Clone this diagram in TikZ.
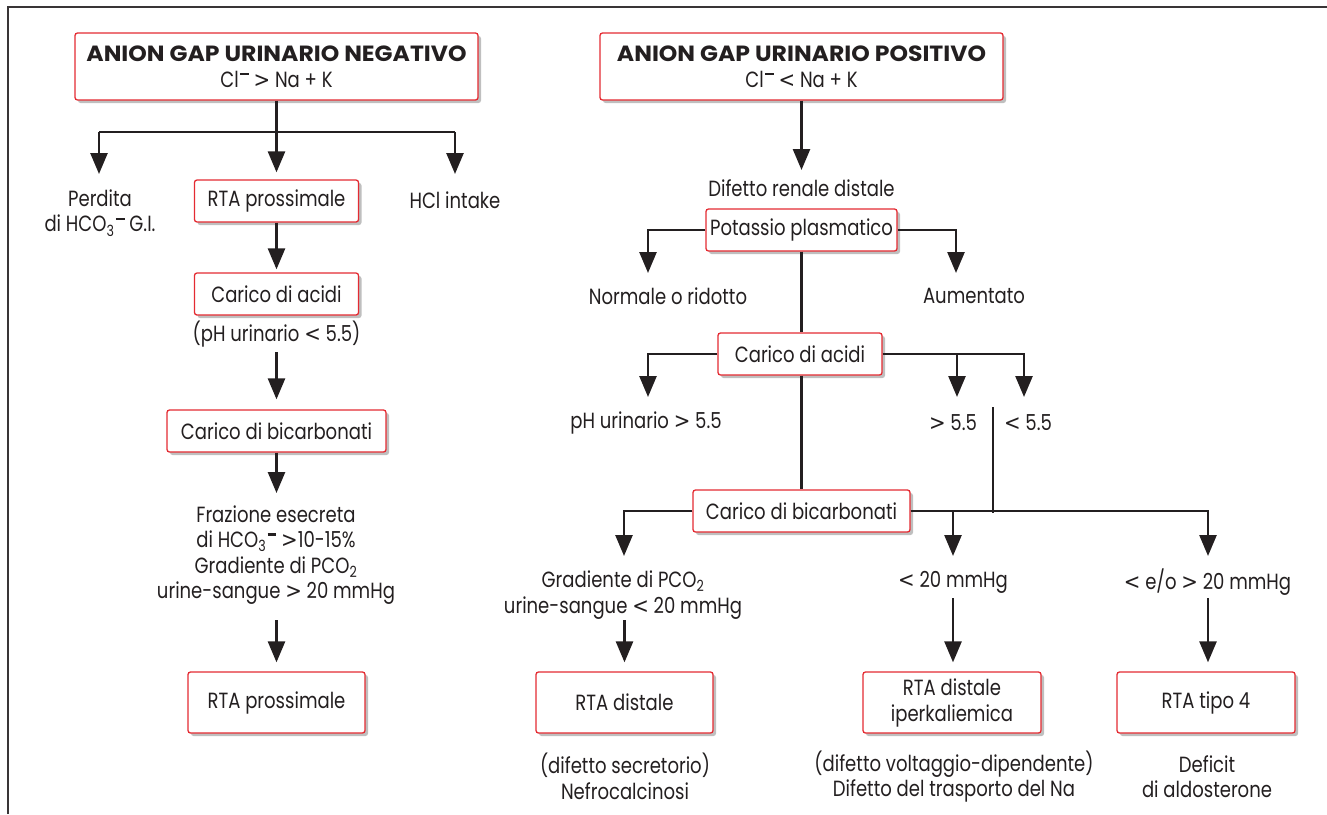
\documentclass[tikz,border=0pt]{standalone}
\usepackage{fontspec}
\setmainfont{Poppins}[FakeStretch=0.82]
\newfontfamily\headfont{Poppins}[FakeStretch=1.07]
\newfontfamily\symf{DejaVu Sans}[FakeStretch=0.9]
\newcommand\myLT{{\symf <}}
\newcommand\myGT{{\symf >}}
\newcommand\supm{\kern0.06em\rule[0.55em]{0.4em}{0.1em}}
\usetikzlibrary{arrows.meta,shadows}
\definecolor{boxred}{HTML}{E42B32}
\definecolor{ink}{HTML}{231F20}
\tikzset{
  box/.style={draw=boxred, line width=1.3pt, rounded corners=2.5pt, fill=white,
    drop shadow={shadow xshift=3pt, shadow yshift=-3pt, fill=black, opacity=0.25},
    font=\fontsize{22}{26}\selectfont, text=ink, inner sep=0pt, align=center},
  lbl/.style={font=\fontsize{22}{25.5}\selectfont, text=ink, inner sep=0pt, align=center},
  conn/.style={draw=ink, line width=2.6pt},
  arr/.style={conn, -{Triangle[width=17pt,length=21pt]}},
  frameline/.style={draw=ink!90, line width=1.6pt},
}
\begin{document}
\begin{tikzpicture}[x=1pt,y=-1pt]
\useasboundingbox (0,0) rectangle (1327,814);
% frame
\coordinate (fBL) at (8,814);
\coordinate (fTL) at (8,7);
\coordinate (fTR) at (1327,7);
\draw[frameline] (fBL) -- (fTL) -- (fTR);

% ---------------- left column ----------------
\node[box, minimum width=403pt, minimum height=67pt] (hneg) at (276.5,66.5)
  {{\headfont\bfseries\fontsize{22}{27}\selectfont ANION GAP URINARIO NEGATIVO}\\Cl\supm{} \myGT{} Na + K};
\coordinate (jL) at (276.5,132);
\coordinate (bL1) at (99,132);
\coordinate (bL3) at (455,132);
\coordinate (tPerd) at (99,174);
\coordinate (tHcl) at (455,174);
\node[box, minimum width=164pt, minimum height=42pt] (rta1) at (276.5,201) {RTA prossimale};
\draw[conn] (hneg.south) -- (jL);
\draw[conn] (bL1) -- (bL3);
\draw[arr] (bL1) -- (tPerd);
\draw[arr] (bL3) -- (tHcl);
\draw[arr, shorten >=7pt] (jL) -- (rta1.north);
\node[lbl] (perd) at (100,213) {Perdita\\di HCO\textsubscript{3}\supm{} G.I.};
\node[lbl] (hcl) at (455,200) {HCl intake};

\node[box, minimum width=164pt, minimum height=42pt] (acid1) at (276.5,294) {Carico di acidi};
\draw[arr, shorten >=3pt] (rta1.south) -- (acid1.north);
\node[lbl] (ph1) at (276.5,334) {(pH urinario \myLT{} 5.5)};
\node[box, minimum width=219pt, minimum height=42pt] (bic1) at (276.5,431) {Carico di bicarbonati};
\coordinate (sPh1) at (276.5,352);
\draw[arr, shorten >=10pt] (sPh1) -- (bic1.north);
\coordinate (tFraz) at (276.5,493);
\draw[arr] (bic1.south) -- (tFraz);
\node[lbl] (fraz) at (276,555) {Frazione esecreta\\ di HCO\textsubscript{3}\supm{} \myGT10-15\%\\Gradiente di PCO\textsubscript{2}\\urine-sangue \myGT{} 20 mmHg};
\node[box, minimum width=177pt, minimum height=61pt] (rta2) at (276.5,702.5) {RTA prossimale};
\coordinate (sFraz) at (276.5,620);
\draw[arr, shorten >=9pt] (sFraz) -- (rta2.north);

% ---------------- right column ----------------
\node[box, minimum width=403pt, minimum height=67pt] (hpos) at (801.5,66.5)
  {{\headfont\bfseries\fontsize{22}{27}\selectfont ANION GAP URINARIO POSITIVO}\\Cl\supm{} \myLT{} Na + K};
\coordinate (tDif) at (801.5,170);
\draw[arr] (hpos.south) -- (tDif);
\node[lbl] (dif) at (801.5,188) {Difetto renale distale};
\node[box, minimum width=191pt, minimum height=42pt] (pot) at (801.5,230) {Potassio plasmatico};
\coordinate (tNorm) at (648,273);
\coordinate (tAum) at (956,273);
\draw[arr] (pot.west) -| (tNorm);
\draw[arr] (pot.east) -| (tAum);
\node[lbl] (norm) at (668,296) {Normale o ridotto};
\node[lbl] (aum) at (974,296) {Aumentato};

\node[box, minimum width=164pt, minimum height=42pt] (acid2) at (800,354) {Carico di acidi};
\draw[conn] (pot.south) -- (pot.south |- acid2.north);
\coordinate (tPh2) at (648,397);
\coordinate (bGt) at (957,354);
\coordinate (tGt) at (957,397);
\coordinate (tLt) at (1024,397);
\draw[arr] (acid2.west) -| (tPh2);
\draw[arr] (acid2.east) -| (tLt);
\draw[arr] (bGt) -- (tGt);
\node[lbl] (ph2) at (646,423) {pH urinario \myGT{} 5.5};
\node[lbl] (gt) at (953,423) {\myGT{} 5.5};
\node[lbl] (lt) at (1028,423) {\myLT{} 5.5};

\node[box, minimum width=217pt, minimum height=42pt] (bic2) at (801.5,511) {Carico di bicarbonati};
\draw[conn] (acid2.south -| pot.south) -- (bic2.north);
\coordinate (vTop) at (993,407);
\coordinate (vBot) at (993,513);
\draw[conn] (vTop) -- (vBot);
\coordinate (tGrad) at (624,556);
\coordinate (bMid) at (953,511);
\coordinate (tMid) at (953,556);
\coordinate (tEo) at (1208,556);
\draw[arr] (bic2.west) -| (tGrad);
\draw[arr] (bic2.east) -| (tEo);
\draw[arr] (bMid) -- (tMid);
\node[lbl] (grad) at (623,595) {Gradiente di PCO\textsubscript{2}\\urine-sangue \myLT{} 20 mmHg};
\node[lbl] (lt20) at (953,582) {\myLT{} 20 mmHg};
\node[lbl] (eo) at (1207.5,582) {\myLT{} e/o \myGT{} 20 mmHg};

\node[box, minimum width=177pt, minimum height=61pt] (rtad) at (624.5,702.5) {RTA distale};
\node[box, minimum width=178pt, minimum height=61pt] (rtadi) at (952,702.5) {RTA distale\\iperkaliemica};
\node[box, minimum width=178pt, minimum height=61pt] (rta4) at (1206,702.5) {RTA tipo 4};
\coordinate (sGrad) at (624.5,620);
\coordinate (sMid) at (953,598);
\coordinate (sEo) at (1208,598);
\draw[arr, shorten >=9pt] (sGrad) -- (rtad.north);
\draw[arr, shorten >=9pt] (sMid) -- (sMid |- rtadi.north);
\draw[arr, shorten >=9pt] (sEo) -- (sEo |- rta4.north);

\node[lbl] (nrtad) at (625,776.5) {(difetto secretorio)\\Nefrocalcinosi};
\node[lbl] (nrtadi) at (954,776.5) {(difetto voltaggio-dipendente)\\Difetto del trasporto del Na};
\node[lbl] (nrta4) at (1207,776.5) {Deficit\\di aldosterone};
\end{tikzpicture}
\end{document}
